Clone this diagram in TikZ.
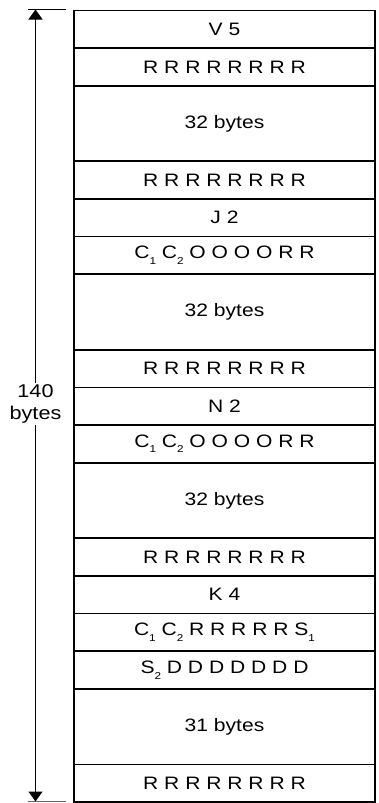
\documentclass[tikz,border=0pt]{standalone}
\usepackage{fontspec}
\setmainfont{Liberation Sans}[FakeStretch=1.17]
\usetikzlibrary{arrows.meta}
\newcommand{\sbs}[1]{\raisebox{-0.3em}{\fontsize{10}{10}\selectfont #1}}
\begin{document}
\begin{tikzpicture}[x=1pt,y=-1pt,
  rowbox/.style={draw, line width=1.7pt, rectangle, inner sep=0pt, minimum width=301pt, anchor=north,
    font=\fontsize{18}{20}\selectfont},
  tick/.style={line width=0.8pt},
  dim/.style={line width=1pt, -{Triangle[width=14pt,length=10pt]}}]
\useasboundingbox (0,0) rectangle (379,803);
\def\u{37.7}
\def\xc{224.5}
\def\yt{9.5}
\node[rowbox, minimum height=\u pt] (r1) at (\xc,\yt+0*\u) {V 5};
\node[rowbox, minimum height=\u pt] (r2) at (\xc,\yt+1*\u) {R R R R R R R R};
\node[rowbox, minimum height=2*\u pt] (r3) at (\xc,\yt+2*\u) {32 bytes};
\node[rowbox, minimum height=\u pt] (r4) at (\xc,\yt+4*\u) {R R R R R R R R};
\node[rowbox, minimum height=\u pt] (r5) at (\xc,\yt+5*\u) {J 2};
\node[rowbox, minimum height=\u pt] (r6) at (\xc,\yt+6*\u) {C\sbs{1} C\sbs{2} O O O O R R};
\node[rowbox, minimum height=2*\u pt] (r7) at (\xc,\yt+7*\u) {32 bytes};
\node[rowbox, minimum height=\u pt] (r8) at (\xc,\yt+9*\u) {R R R R R R R R};
\node[rowbox, minimum height=\u pt] (r9) at (\xc,\yt+10*\u) {N 2};
\node[rowbox, minimum height=\u pt] (r10) at (\xc,\yt+11*\u) {C\sbs{1} C\sbs{2} O O O O R R};
\node[rowbox, minimum height=2*\u pt] (r11) at (\xc,\yt+12*\u) {32 bytes};
\node[rowbox, minimum height=\u pt] (r12) at (\xc,\yt+14*\u) {R R R R R R R R};
\node[rowbox, minimum height=\u pt] (r13) at (\xc,\yt+15*\u) {K 4};
\node[rowbox, minimum height=\u pt] (r14) at (\xc,\yt+16*\u) {C\sbs{1} C\sbs{2} R R R R R S\sbs{1}};
\node[rowbox, minimum height=\u pt] (r15) at (\xc,\yt+17*\u) {S\sbs{2} D D D D D D D};
\node[rowbox, minimum height=2*\u pt] (r16) at (\xc,\yt+18*\u) {31 bytes};
\node[rowbox, minimum height=\u pt] (r17) at (\xc,\yt+20*\u) {R R R R R R R R};
% dimension
\coordinate (tl) at (28,9.5);
\coordinate (tr) at (66,9.5);
\coordinate (bl) at (28,801.5);
\coordinate (br) at (66,801.5);
\coordinate (top) at (35.5,9.5);
\coordinate (bot) at (35.5,801.5);
\draw[tick] (tl) -- (tr);
\draw[tick, black!60] (bl) -- (br);
\node[align=center, inner sep=1.5pt, font=\fontsize{18.5}{22}\selectfont] (lbl) at (35.5,404) {140\\bytes};
\draw[dim] (lbl.north) -- (top);
\draw[dim] (lbl.south) -- (bot);
\end{tikzpicture}
\end{document}
